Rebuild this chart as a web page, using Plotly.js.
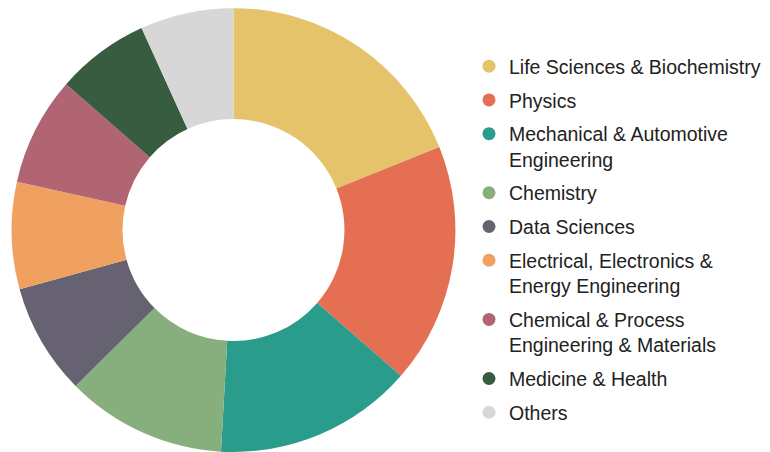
<!DOCTYPE html>
<html>
<head>
<meta charset="utf-8">
<script src="https://cdn.plot.ly/plotly-3.0.1.min.js"></script>
<style>html,body{margin:0;padding:0;background:#fff}#chart{width:770px;height:452px}</style>
</head>
<body>
<div id="chart"></div>
<script>
const categories = [
  "Life Sciences & Biochemistry",
  "Physics",
  "Mechanical & Automotive<br>Engineering",
  "Chemistry",
  "Data Sciences",
  "Electrical, Electronics &<br>Energy Engineering",
  "Chemical & Process<br>Engineering & Materials",
  "Medicine & Health",
  "Others"
];
const shares = [18.9, 17.5, 14.5, 11.7, 8.1, 7.8, 7.9, 6.8, 6.8];
const colors = ["#E5C36B", "#E56F52", "#2A9C8C", "#87AF7D", "#676272", "#F0A05F", "#B16572", "#385C3F", "#D7D7D7"];

const traces = [{
  type: "pie",
  labels: categories,
  values: shares,
  sort: false,
  direction: "clockwise",
  rotation: 0,
  hole: 0.5,
  textinfo: "none",
  hoverinfo: "label+percent",
  marker: {colors: colors, line: {width: 0}},
  showlegend: false,
  domain: {x: [11/770, 456/770], y: [0, 0.982]}
}];
categories.forEach((c, i) => {
  traces.push({
    type: "scatter", mode: "markers",
    x: [null], y: [null],
    name: c, legendgroup: "g" + i,
    marker: {symbol: "circle", size: 13, color: colors[i]},
    showlegend: true, hoverinfo: "skip"
  });
});

const FONT = "'Liberation Sans', Arial, sans-serif";
const layout = {
  width: 770, height: 452,
  margin: {l: 0, r: 0, t: 0, b: 0},
  paper_bgcolor: "#fff", plot_bgcolor: "#fff",
  font: {family: FONT, size: 19.5, color: "#222"},
  xaxis: {visible: false}, yaxis: {visible: false},
  showlegend: true,
  legend: {
    x: 469/770, xanchor: "left",
    y: 1 - 47/452, yanchor: "top",
    tracegroupgap: 5.4,
    valign: "top",
    font: {family: FONT, size: 19.5, color: "#222"},
    bgcolor: "rgba(0,0,0,0)"
  }
};
Plotly.newPlot("chart", traces, layout, {displayModeBar: false, staticPlot: true});
</script>
</body>
</html>
